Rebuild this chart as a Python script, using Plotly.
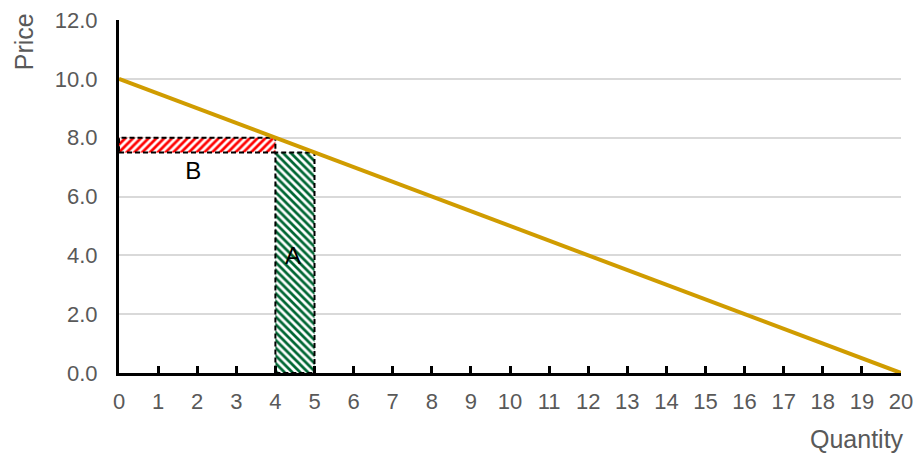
import plotly.graph_objects as go

# Demand curve
demand_q = [0, 20]
demand_p = [10, 0]

# Area rectangles (x0, x1, y0, y1)
rect_A = [4, 5, 0, 7.5]
rect_B = [0, 4, 7.5, 8]

# Labels
label_text = ["B", "A"]
label_x = [1.9, 4.45]
label_y = [6.8, 3.9]

x_ticks = list(range(0, 21))
y_ticks = [0, 2, 4, 6, 8, 10, 12]
y_tick_labels = ["0.0", "2.0", "4.0", "6.0", "8.0", "10.0", "12.0"]

FONT = "Liberation Sans, Arial, sans-serif"
GREY = "#595959"

def rect_xy(r):
    x0, x1, y0, y1 = r
    return [x0, x1, x1, x0, x0], [y0, y0, y1, y1, y0]

fig = go.Figure()

bx, by = rect_xy(rect_B)
fig.add_trace(go.Scatter(
    x=bx, y=by, mode="lines", fill="toself", fillcolor="white",
    fillpattern=dict(shape="/", fgcolor="#ff0000", bgcolor="white", fgopacity=1,
                     size=5.5, solidity=0.5),
    line=dict(color="black", width=2, dash="5px,3px"), hoverinfo="skip", showlegend=False))

ax_, ay_ = rect_xy(rect_A)
fig.add_trace(go.Scatter(
    x=ax_, y=ay_, mode="lines", fill="toself", fillcolor="white",
    fillpattern=dict(shape="\\", fgcolor="#006633", bgcolor="white", fgopacity=1,
                     size=5.5, solidity=0.5),
    line=dict(color="black", width=2, dash="5px,3px"), hoverinfo="skip", showlegend=False))

fig.add_trace(go.Scatter(
    x=demand_q, y=demand_p, mode="lines",
    line=dict(color="#d09c00", width=4), showlegend=False))

fig.add_trace(go.Scatter(
    x=label_x, y=label_y, mode="text", text=label_text,
    textfont=dict(family=FONT, size=24, color="black"), showlegend=False))

fig.update_layout(
    width=917, height=456,
    margin=dict(l=119, r=16, t=20, b=83),
    paper_bgcolor="white", plot_bgcolor="white",
    font=dict(family=FONT, color=GREY, size=22),
    showlegend=False,
)

fig.update_xaxes(
    range=[0, 20], tickvals=x_ticks, ticktext=[str(v) for v in x_ticks],
    showgrid=False, zeroline=False, automargin=False,
    showline=True, linecolor="black", linewidth=3,
    ticks="inside", ticklen=7, tickwidth=3, tickcolor="black",
    tickfont=dict(size=22, color=GREY), ticklabelstandoff=7,
)
fig.update_yaxes(
    range=[0, 12], tickvals=y_ticks, ticktext=y_tick_labels,
    showgrid=True, gridcolor="#d9d9d9", gridwidth=1.5, zeroline=False, automargin=False,
    showline=True, linecolor="black", linewidth=3,
    ticks="", tickfont=dict(size=22, color=GREY), ticklabelstandoff=14,
)

fig.add_annotation(text="Price", xref="paper", yref="paper", x=-0.122, y=1.025,
                   xanchor="center", yanchor="top", textangle=-90, showarrow=False,
                   font=dict(size=25, color=GREY, family=FONT))
fig.add_annotation(text="Quantity", xref="paper", yref="paper", x=1.007, y=-0.142,
                   xanchor="right", yanchor="top", showarrow=False,
                   font=dict(size=25, color=GREY, family=FONT))

fig.write_html("out.html", config={"displayModeBar": False},
               post_script="document.body.style.margin='0';document.body.style.overflow='hidden';")
